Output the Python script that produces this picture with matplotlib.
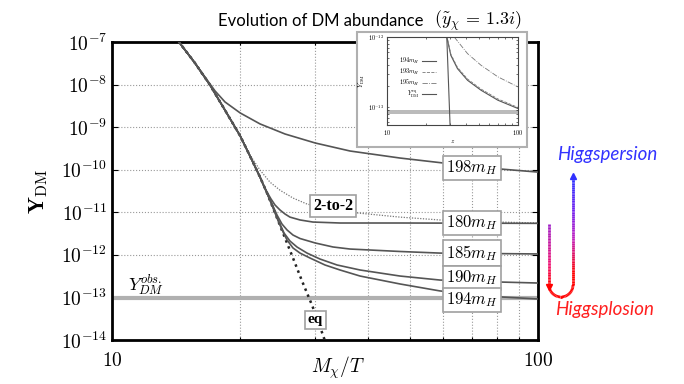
import matplotlib
matplotlib.use('Agg')
import matplotlib.pyplot as plt
import matplotlib.colors as mcolors
import numpy as np
from matplotlib.collections import LineCollection
from matplotlib.patches import Rectangle
from matplotlib.ticker import FixedLocator, FuncFormatter, LogLocator, NullFormatter

plt.rcParams['mathtext.fontset'] = 'cm'

# ---- data (x = M_chi/T, y = Y_DM) ----
# shared upper branch (all curves sit on equilibrium here)
top_x = [14.0, 14.36, 15.66, 16.98, 18.42, 20.0, 21.08, 22.26]
top_y = [1.4e-7, 1e-7, 3.2e-8, 9.8e-9, 2.5e-9, 6.2e-10, 2.1e-10, 6.7e-11]

eq_x = top_x + [23.11, 23.88, 25.20, 26.60, 27.93, 29.48, 30.44, 31.45, 31.8]
eq_y = top_y + [2.84e-11, 1.26e-11, 3.26e-12, 8.43e-13, 2.43e-13, 6.6e-14, 2.79e-14, 1.11e-14, 8e-15]

m198_x = [14.0, 14.36, 15.66, 16.53, 17.45, 18.42, 20.0, 22.26, 25.48, 30.0, 36.21, 47.44, 59.84, 81.44, 100]
m198_y = [1.4e-7, 1e-7, 3.2e-8, 1.5e-8, 7.1e-9, 3.9e-9, 2.15e-9, 1.19e-9, 6.9e-10, 4.24e-10, 2.75e-10,
          1.88e-10, 1.44e-10, 1.04e-10, 8.8e-11]

two2_x = top_x[:6] + [21.08, 22.26, 23.49, 24.80, 26.60, 28.70, 32.49, 37.81, 47.44, 58.88, 81.44, 100]
two2_y = top_y[:6] + [2.2e-10, 9.8e-11, 5.1e-11, 3.3e-11, 2.16e-11, 1.56e-11, 1.19e-11, 9.6e-12,
                      7.7e-12, 6.6e-12, 5.9e-12, 5.6e-12]

m180_x = top_x + [22.62, 23.11, 23.62, 24.14, 24.80, 25.48, 26.17, 27.63, 29.63, 34.30, 47.44, 100]
m180_y = top_y + [4.61e-11, 2.99e-11, 2.05e-11, 1.48e-11, 1.13e-11, 9.1e-12, 7.7e-12, 6.6e-12, 5.9e-12,
                  5.6e-12, 5.6e-12, 5.5e-12]

m185_x = top_x + [22.62, 23.11, 23.75, 24.40, 25.06, 25.76, 26.60, 27.63, 30.0, 33.03, 36.21, 40.33,
                  47.44, 58.88, 100]
m185_y = top_y + [4.61e-11, 2.84e-11, 1.56e-11, 8.6e-12, 5.3e-12, 3.84e-12, 2.92e-12, 2.42e-12, 1.90e-12,
                  1.53e-12, 1.37e-12, 1.30e-12, 1.20e-12, 1.10e-12, 1.05e-12]

m190_x = top_x + [22.62, 23.11, 23.88, 24.54, 25.34, 26.17, 27.18, 28.70, 30.78, 33.75, 38.22, 47.44,
                  58.88, 81.44, 100]
m190_y = top_y + [4.61e-11, 2.84e-11, 1.33e-11, 6.6e-12, 3.26e-12, 2.11e-12, 1.53e-12, 1.10e-12,
                  7.98e-13, 5.78e-13, 4.41e-13, 3.18e-13, 2.56e-13, 2.30e-13, 2.18e-13]

m194_x = top_x + [22.62, 23.11, 23.88, 24.67, 25.34, 25.76, 26.60, 27.63, 29.16, 31.62, 34.30, 38.22,
                  47.44, 58.88, 69.24, 82.77, 100]
m194_y = top_y + [4.61e-11, 2.84e-11, 1.26e-11, 5.6e-12, 3.09e-12, 2.23e-12, 1.45e-12, 1.10e-12,
                  8.43e-13, 5.78e-13, 4.41e-13, 3.18e-13, 2.07e-13, 1.42e-13, 1.20e-13, 1.02e-13, 9.2e-14]

Y_OBS = 9.7e-14

curve_labels = ['$198m_H$', '$180m_H$', '$185m_H$', '$190m_H$', '$194m_H$']
label_x = 70.0
label_y = [1.1e-10, 5.6e-12, 1.1e-12, 2.86e-13, 8.7e-14]

y_ticks = [1e-14, 1e-13, 1e-12, 1e-11, 1e-10, 1e-9, 1e-8, 1e-7]
x_ticks = [10, 100]
x_grid = [20, 30, 40, 50, 60, 70, 80, 90]

# inset data
in194_x = [28.6, 30.7, 34.5, 41.2, 52.2, 70.2, 100]
in194_y = [1e-12, 5.47e-13, 3.53e-13, 2.40e-13, 1.73e-13, 1.245e-13, 9.46e-14]
in193_y = [1.05e-12, 5.7e-13, 3.68e-13, 2.50e-13, 1.80e-13, 1.30e-13, 9.8e-14]
in195_x = [32.6, 41.2, 52.2, 70.2, 100]
in195_y = [1e-12, 5.78e-13, 3.94e-13, 2.69e-13, 1.93e-13]
in_eq_x = [28.6, 30.3]
in_eq_y = [1e-12, 5.5e-14]
in_band = (7.9e-14, 8.9e-14)

# ---- figure ----
fig = plt.figure(figsize=(6.84, 3.84), dpi=100)
ax = fig.add_axes([112 / 684, 1 - 340 / 384, 426 / 684, 298 / 384])
ax.set_xscale('log')
ax.set_yscale('log')
ax.set_xlim(10, 100)
ax.set_ylim(1e-14, 1e-7)

line_col = '#555555'
ax.plot(eq_x, eq_y, color='#222222', ls=(0, (1, 1.6)), lw=1.8, zorder=3)
ax.plot(two2_x, two2_y, color='#777777', ls=(0, (1, 1.2)), lw=0.9, zorder=3)
for xs, ys in [(m198_x, m198_y), (m180_x, m180_y), (m185_x, m185_y),
               (m190_x, m190_y), (m194_x, m194_y)]:
    ax.plot(xs, ys, color=line_col, lw=1.2, zorder=3)
ax.axhline(Y_OBS, color='#b0b0b0', lw=3, zorder=2)

box = dict(boxstyle='square,pad=0.18', fc='white', ec='#a0a0a0', lw=1.2)
for lab, ly in zip(curve_labels, label_y):
    ax.text(label_x, ly, lab, ha='center', va='center', fontsize=12, bbox=box, zorder=6)
ax.text(33.03, 1.4e-11, '2-to-2', ha='center', va='center', fontsize=11.5, bbox=box, zorder=6,
        family='Liberation Serif', weight='bold')
ax.text(30.0, 2.95e-14, 'eq', ha='center', va='center', fontsize=11, bbox=box, zorder=6,
        family='Liberation Serif', weight='bold')
ax.text(12.02, 2.0e-13, r'$Y_{DM}^{obs.}$', ha='center', va='center', fontsize=13)

# axes cosmetics
ax.yaxis.set_major_locator(FixedLocator(y_ticks))
ax.yaxis.set_major_formatter(FuncFormatter(lambda v, p: r'$10^{%d}$' % round(np.log10(v))))
ax.yaxis.set_minor_locator(LogLocator(base=10, subs=np.arange(2, 10)))
ax.yaxis.set_minor_formatter(NullFormatter())
ax.xaxis.set_major_locator(FixedLocator(x_ticks))
ax.xaxis.set_major_formatter(FuncFormatter(lambda v, p: r'$%d$' % v))
ax.xaxis.set_minor_locator(FixedLocator(x_grid))
ax.xaxis.set_minor_formatter(NullFormatter())
ax.grid(True, which='major', axis='y', ls=':', color='#999999', lw=0.8)
ax.grid(True, which='minor', axis='x', ls=':', color='#999999', lw=0.8)
ax.tick_params(which='both', direction='in', top=True, right=True, labelsize=14, width=0.8)
ax.tick_params(which='major', length=4)
ax.tick_params(which='minor', length=2)
ax.tick_params(axis='x', pad=8)
for s in ax.spines.values():
    s.set_linewidth(2)
ax.set_ylabel(r'$\mathbf{Y}_{\rm DM}$', fontsize=16, labelpad=8)
fig.text(338 / 684, 3 / 384, r'$M_\chi/T$', fontsize=14, ha='center', va='bottom')

# title
fig.text(218 / 684, 1 - 21 / 384, 'Evolution of DM abundance', family='Lato', fontsize=12,
         ha='left', va='center')
fig.text(434 / 684, 1 - 21 / 384, r'$(\tilde{y}_\chi\, =\, 1.3i)$', fontsize=13,
         ha='left', va='center')

# ---- inset ----
fig.add_artist(Rectangle((357 / 684, 1 - 147 / 384), 170 / 684, 115 / 384,
                         transform=fig.transFigure, fc='white', ec='#b0b0b0', lw=1.5, zorder=5))
axi = fig.add_axes([387 / 684, 1 - 125 / 384, 131 / 684, 88 / 384], zorder=10)
axi.set_xscale('log')
axi.set_yscale('log')
axi.set_xlim(10, 100)
axi.set_ylim(5.5e-14, 1e-12)
axi.axhspan(*in_band, color='#bbbbbb', lw=0)
axi.plot(in194_x, in194_y, color='#555555', lw=0.8, label='$194m_H$')
axi.plot(in194_x, in193_y, color='#777777', lw=0.6, ls='--', label='$193m_H$')
axi.plot(in195_x, in195_y, color='#777777', lw=0.6, ls='-.', label='$195m_H$')
axi.plot(in_eq_x, in_eq_y, color='#555555', lw=0.8, label=r'$Y_{\rm DM}^{\rm eq}$')
axi.yaxis.set_major_locator(FixedLocator([1e-13, 1e-12]))
axi.yaxis.set_major_formatter(FuncFormatter(lambda v, p: r'$10^{%d}$' % round(np.log10(v))))
axi.yaxis.set_minor_formatter(NullFormatter())
axi.xaxis.set_major_locator(FixedLocator([10, 100]))
axi.xaxis.set_major_formatter(FuncFormatter(lambda v, p: r'$%d$' % v))
axi.xaxis.set_minor_formatter(NullFormatter())
axi.tick_params(which='both', direction='in', labelsize=4.5, length=1.5, width=0.4, pad=2,
                top=True, right=True)
for s in axi.spines.values():
    s.set_linewidth(0.8)
    s.set_color('#444444')
axi.set_xlabel('$z$', fontsize=5, labelpad=1)
axi.set_ylabel(r'$Y_{\rm DM}$', fontsize=5, labelpad=1)
axi.legend(loc='upper left', bbox_to_anchor=(0.05, 0.85), frameon=False, fontsize=4.5,
           markerfirst=False, handlelength=2.2, labelspacing=0.15, handletextpad=0.4)

# ---- Higgsplosion / Higgspersion arrows ----
ov = fig.add_axes([0, 0, 1, 1], zorder=20)
ov.set_xlim(0, 684)
ov.set_ylim(384, 0)
ov.axis('off')
left_y = np.linspace(224, 285, 40)
t = np.linspace(0, np.pi, 30)
right_y = np.linspace(285, 178, 60)
px = np.concatenate([np.full(40, 549.0), 561 - 12 * np.cos(t), np.full(60, 573.0)])
py = np.concatenate([left_y, 285 + 12 * np.sin(t), right_y])
pts = np.column_stack([px, py]).reshape(-1, 1, 2)
segs = np.concatenate([pts[:-1], pts[1:]], axis=1)
cmap = mcolors.LinearSegmentedColormap.from_list(
    'hig', [(0, '#a020c8'), (0.2, '#f01070'), (0.3, '#ff0000'), (0.6, '#ff0000'),
            (0.75, '#c020c0'), (0.87, '#7020f0'), (1, '#3030ff')])
lc = LineCollection(segs, cmap=cmap, lw=2)
lc.set_array(np.linspace(0, 1, len(segs)))
ov.add_collection(lc)
ov.plot([573], [176], marker='^', ms=5, color='#3030ff')
ov.plot([549], [287], marker='v', ms=4, color='#ff0000')
fig.text(557 / 684, 1 - 155 / 384, 'Higgspersion', color='#3333ff', style='italic', family='Lato',
         fontsize=13.5, ha='left', va='center')
fig.text(555 / 684, 1 - 309 / 384, 'Higgsplosion', color='#ff2020', style='italic', family='Lato',
         fontsize=13.5, ha='left', va='center')

fig.savefig('out.png', dpi=100)
